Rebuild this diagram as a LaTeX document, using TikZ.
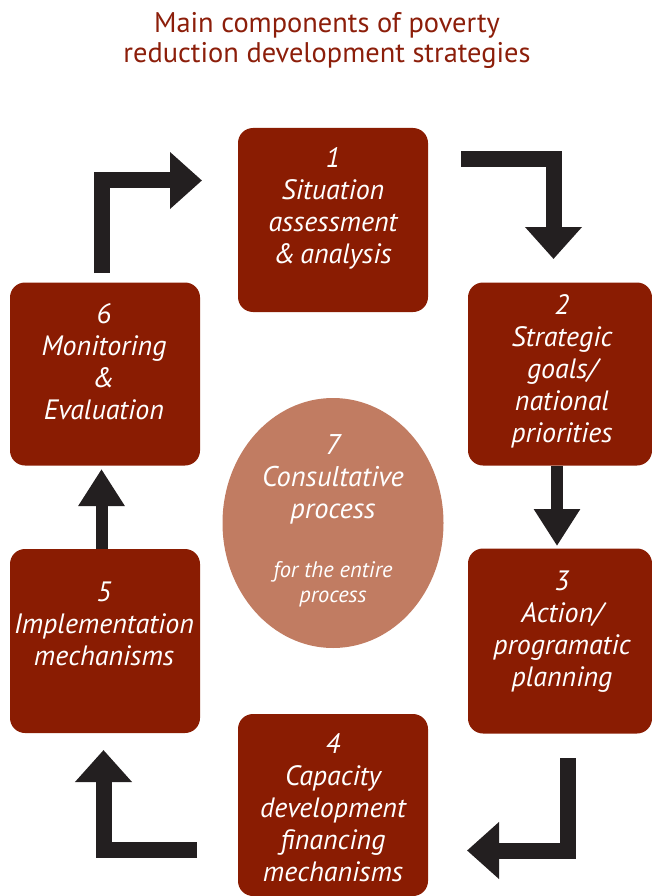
\documentclass[tikz,border=0pt]{standalone}
\usepackage{fontspec}
\setmainfont{PT Sans}
\usetikzlibrary{arrows.meta,calc,shapes.geometric}
\definecolor{boxred}{RGB}{138,28,2}
\definecolor{titlered}{RGB}{140,30,10}
\definecolor{ovalfill}{RGB}{193,124,98}
\definecolor{arrowblack}{RGB}{35,31,32}
\tikzset{
  stepbox/.style={fill=boxred, draw=none, rounded corners=15pt, minimum width=190pt, minimum height=184pt, inner sep=0pt},
  boxtext/.style={text=white, align=center, anchor=base, font=\fontsize{28}{32}\selectfont\itshape, inner sep=0pt},
  bigarrow/.style={draw=arrowblack, line width=16pt, line cap=butt, line join=miter, -{Triangle[width=55pt,length=32pt]}},
  smallarrow/.style={draw=arrowblack, line width=12pt, line cap=butt, -{Triangle[width=44pt,length=37pt]}}
}
\begin{document}
\begin{tikzpicture}[x=1pt,y=-1pt]
\useasboundingbox (0,0) rectangle (652,896);
% title
\node[text=titlered, align=center, anchor=base, inner sep=0pt, font=\fontsize{28.4}{30}\selectfont] (title) at (327,63)
  {Main components of poverty\\reduction development strategies};
% boxes
\node[stepbox] (b1) at (333,220) {};
\node[stepbox, minimum width=184pt, minimum height=183pt] (b2) at (560,374) {};
\node[stepbox, minimum width=184pt, minimum height=185pt] (b3) at (560,641) {};
\node[stepbox, minimum height=182pt] (b4) at (333,805) {};
\node[stepbox] (b5) at (105,641) {};
\node[stepbox, minimum height=183pt] (b6) at (105,374) {};
% ellipse
\node[fill=ovalfill, draw=none, ellipse, minimum width=221pt, minimum height=250pt, inner sep=0pt] (e7) at (333,523) {};
% texts (anchored at the baseline of their last line)
\node[boxtext] (t1) at (333,263.5) {1\\Situation\\assessment\\\&\,analysis};
\node[boxtext] (t2) at (562,442) {2\\Strategic\\goals/\\national\\priorities};
\node[boxtext] (t3) at (562,686) {3\\Action/\\programatic\\planning};
\node[boxtext] (t4) at (333,881) {4\\Capacity\\development\\financing\\mechanisms};
\node[boxtext] (t5) at (104,665) {5\\Implementation\\mechanisms};
\node[boxtext] (t6) at (104,419) {6\\Monitoring\\\&\\Evaluation};
\node[boxtext, font=\fontsize{28.5}{32}\selectfont\itshape] (t7) at (333,518) {7\\Consultative\\process};
\node[boxtext, font=\fontsize{22.5}{25}\selectfont\itshape] (t7b) at (333,602) {for the entire\\process};
% arrow coordinates
\coordinate (a61s) at (102,273);
\coordinate (a61e) at (202,180.5);
\coordinate (a12s) at (461,159.5);
\coordinate (a12e) at (553.5,259);
\coordinate (a34s) at (568,758);
\coordinate (a34e) at (467,850.5);
\coordinate (a45s) at (197,850);
\coordinate (a45e) at (103.5,750);
\coordinate (a23s) at (557,466);
\coordinate (a23e) at (557,546);
\coordinate (a56s) at (101.5,549);
\coordinate (a56e) at (101.5,469);
% arrows
\draw[bigarrow] (a61s) |- (a61e);
\draw[bigarrow] (a12s) -| (a12e);
\draw[bigarrow] (a34s) |- (a34e);
\draw[bigarrow] (a45s) -| (a45e);
\draw[smallarrow] (a23s) -- (a23e);
\draw[smallarrow] (a56s) -- (a56e);
\end{tikzpicture}
\end{document}
